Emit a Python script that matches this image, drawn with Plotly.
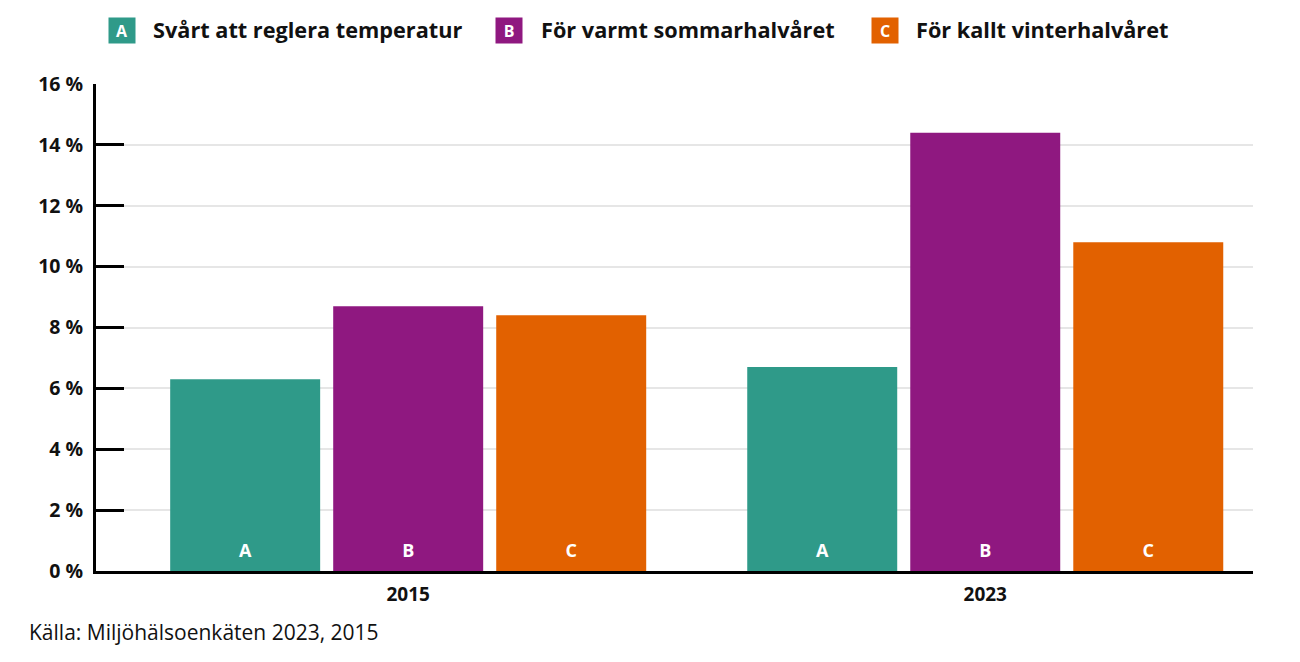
import plotly.graph_objects as go

years = ["2015", "2023"]
letters = ["A", "B", "C"]
series_names = ["Svårt att reglera temperatur", "För varmt sommarhalvåret", "För kallt vinterhalvåret"]
values_A = [6.3, 6.7]
values_B = [8.7, 14.4]
values_C = [8.4, 10.8]
colors = ["#2f9a89", "#8f1880", "#e26100"]
y_ticks = [0, 2, 4, 6, 8, 10, 12, 14, 16]
y_tick_labels = [f"{v} %" for v in y_ticks]
source = "Källa: Miljöhälsoenkäten 2023, 2015"

W, H = 1300, 662
L, R, T, B = 96, 47, 84, 91
pw = W - L - R
ph = H - T - B

def px_x(x):
    return (x - L) / pw

def px_y(y):
    return (H - B - y) / ph

FONT = "Open Sans"

fig = go.Figure()
for vals, name, letter, col in zip([values_A, values_B, values_C], series_names, letters, colors):
    fig.add_trace(go.Bar(
        x=years, y=vals, name=name, marker=dict(color=col, line=dict(width=0)),
        offsetgroup=letter, showlegend=False, hoverinfo="x+y+name",
    ))
for vals, letter in zip([values_A, values_B, values_C], letters):
    fig.add_trace(go.Scatter(
        x=years, y=[0] * len(years), mode="markers+text", offsetgroup=letter,
        text=[letter] * len(years), textposition="top center",
        marker=dict(size=14, opacity=0),
        textfont=dict(family=FONT, size=18, color="white", weight=700),
        cliponaxis=False, showlegend=False, hoverinfo="skip",
    ))

# legend built as annotations
legend_box_x = [122, 509, 885]
legend_text_x = [151, 539, 914]
for letter, name, col, bx, tx in zip(letters, series_names, colors, legend_box_x, legend_text_x):
    fig.add_annotation(xref="paper", yref="paper", x=px_x(bx), y=px_y(30), text=letter,
                       showarrow=False, bgcolor=col, width=22, height=21,
                       font=dict(family=FONT, size=16, color="white", weight=700),
                       xanchor="center", yanchor="middle", borderpad=2)
    fig.add_annotation(xref="paper", yref="paper", x=px_x(tx), y=px_y(29), text=name,
                       showarrow=False, xanchor="left", yanchor="middle",
                       font=dict(family=FONT, size=21.7, color="#111111", weight=700))

fig.add_annotation(xref="paper", yref="paper", x=px_x(27), y=px_y(632), text=source,
                   showarrow=False, xanchor="left", yanchor="middle",
                   font=dict(family=FONT, size=21, color="#111111"))

fig.update_layout(
    width=W, height=H, margin=dict(l=L, r=R, t=T, b=B),
    paper_bgcolor="white", plot_bgcolor="white",
    barmode="group", bargap=0.1525, bargroupgap=0.08,
    scattermode="group", scattergap=0.1525,
    font=dict(family=FONT),
)
fig.update_xaxes(
    type="category", range=[-0.541, 1.464], showgrid=False, zeroline=False,
    showline=True, linecolor="black", linewidth=3, ticks="",
    tickfont=dict(family=FONT, size=19, color="#111111", weight=700),
    ticklabelstandoff=4,
)
fig.update_yaxes(
    range=[0, 16], tickvals=y_ticks, ticktext=y_tick_labels,
    showgrid=True, gridcolor="#e6e6e6", gridwidth=1.5, zeroline=False,
    showline=True, linecolor="black", linewidth=3,
    ticks="inside", ticklen=28, tickwidth=3, tickcolor="black",
    tickfont=dict(family=FONT, size=19.5, color="#111111", weight=700),
    ticklabelstandoff=6,
)

fig.write_html("out.html")
